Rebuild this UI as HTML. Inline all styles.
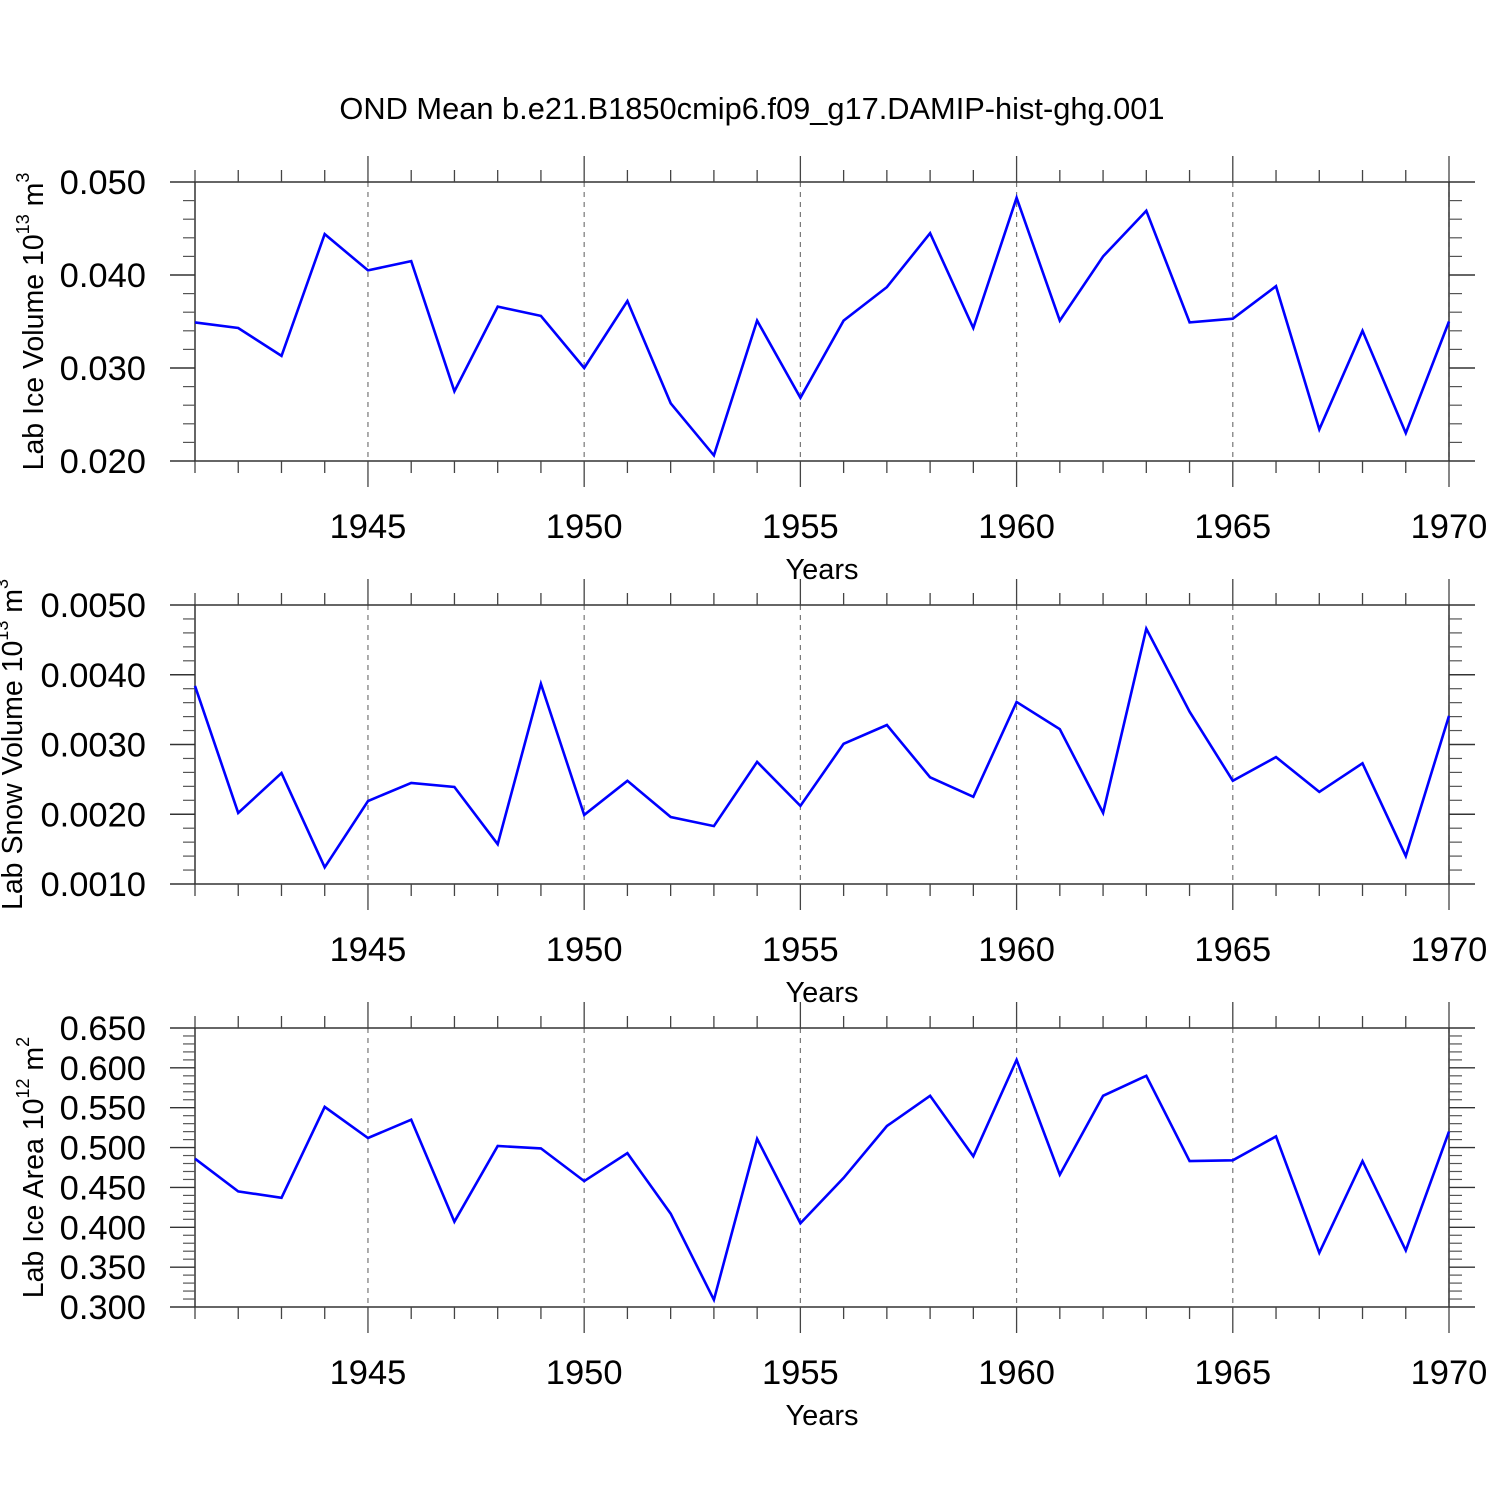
<!DOCTYPE html>
<html><head><meta charset="utf-8"><style>
html,body{margin:0;padding:0;background:#fff;}
svg text{font-family:"Liberation Sans",sans-serif;fill:#000;}
</style></head><body>
<svg id="chart" width="1500" height="1500" viewBox="0 0 1500 1500" xmlns="http://www.w3.org/2000/svg">
<rect width="1500" height="1500" fill="#fff"/>
<text x="752" y="119" font-size="30.8" text-anchor="middle">OND Mean b.e21.B1850cmip6.f09_g17.DAMIP-hist-ghg.001</text>
</svg>
<script>
const years = [1941,1942,1943,1944,1945,1946,1947,1948,1949,1950,1951,1952,1953,1954,1955,1956,1957,1958,1959,1960,1961,1962,1963,1964,1965,1966,1967,1968,1969,1970];
const iceVolume = [0.0349,0.0343,0.0313,0.0444,0.0405,0.0415,0.0275,0.0366,0.0356,0.0300,0.0372,0.0262,0.0206,0.0351,0.0268,0.0351,0.0387,0.0445,0.0343,0.0483,0.0351,0.0420,0.0469,0.0349,0.0353,0.0388,0.0234,0.0340,0.0230,0.0350];
const snowVolume = [0.00384,0.00202,0.00259,0.00124,0.00219,0.00245,0.00239,0.00157,0.00387,0.00199,0.00248,0.00196,0.00183,0.00275,0.00212,0.00301,0.00328,0.00253,0.00225,0.00361,0.00322,0.00202,0.00466,0.00347,0.00248,0.00282,0.00232,0.00273,0.00140,0.00341];
const iceArea = [0.486,0.445,0.437,0.551,0.512,0.535,0.407,0.502,0.499,0.458,0.493,0.417,0.309,0.511,0.405,0.462,0.527,0.565,0.489,0.610,0.466,0.565,0.590,0.483,0.484,0.514,0.368,0.483,0.371,0.520];
const xTickLabels = ["1945","1950","1955","1960","1965","1970"];
const iceVolTicks = ["0.020","0.030","0.040","0.050"];
const snowVolTicks = ["0.0010","0.0020","0.0030","0.0040","0.0050"];
const iceAreaTicks = ["0.300","0.350","0.400","0.450","0.500","0.550","0.600","0.650"];

const NS="http://www.w3.org/2000/svg";
const svg=document.getElementById('chart');
const X0=195,X1=1449;
function xs(v){return X0+(v-1941)/(1970-1941)*(X1-X0);}
function mk(tag,attrs,parent){const e=document.createElementNS(NS,tag);for(const k in attrs)e.setAttribute(k,attrs[k]);(parent||svg).appendChild(e);return e;}

const panels=[
 {name:'ice-volume',top:182,bot:461,vals:iceVolume,ticks:iceVolTicks,ymin:0.020,ymax:0.050,minorN:5,lab:['Lab Ice Volume 10','13',' m','3'],labX:43},
 {name:'snow-volume',top:605,bot:884,vals:snowVolume,ticks:snowVolTicks,ymin:0.0010,ymax:0.0050,minorN:5,lab:['Lab Snow Volume 10','13',' m','3'],labX:22},
 {name:'ice-area',top:1028,bot:1307,vals:iceArea,ticks:iceAreaTicks,ymin:0.300,ymax:0.650,minorN:5,lab:['Lab Ice Area 10','12',' m','2'],labX:43}
];
panels.forEach(p=>{
 const g=mk('g',{});
 
 
 const ys=v=>p.bot-(v-p.ymin)/(p.ymax-p.ymin)*(p.bot-p.top);
 xTickLabels.forEach(t=>{const x=xs(+t);const l=mk('line',{x1:x,x2:x,y1:p.top,y2:p.bot,stroke:'#777','stroke-width':1.2,'stroke-dasharray':'5,5'},g);
  
  });
 const fr=mk('rect',{x:X0,y:p.top,width:X1-X0,height:p.bot-p.top,fill:'none',stroke:'#333','stroke-width':1.5},g);
 
 
 years.forEach(yr=>{const x=xs(yr);const major=(yr%5===0);const len=major?26:12;
  mk('line',{x1:x,x2:x,y1:p.top-len,y2:p.top,stroke:'#444','stroke-width':1.3},g);
  mk('line',{x1:x,x2:x,y1:p.bot,y2:p.bot+len,stroke:'#444','stroke-width':1.3},g);});
 const n=p.ticks.length;const step=(p.ymax-p.ymin)/(n-1);
 for(let i=0;i<n-1;i++){for(let j=1;j<p.minorN;j++){const y=ys(p.ymin+step*i+step*j/p.minorN);
  mk('line',{x1:X0-12,x2:X0,y1:y,y2:y,stroke:'#555','stroke-width':1.2},g);
  mk('line',{x1:X1,x2:X1+13,y1:y,y2:y,stroke:'#555','stroke-width':1.2},g);}}
 p.ticks.forEach(t=>{const y=ys(+t);
  mk('line',{x1:X0-25,x2:X0,y1:y,y2:y,stroke:'#333','stroke-width':1.4},g);
  mk('line',{x1:X1,x2:X1+26,y1:y,y2:y,stroke:'#333','stroke-width':1.4},g);
  const tx=mk('text',{x:146,y:y+12,'font-size':34.5,'text-anchor':'end'},g);tx.textContent=t;
  
  });
 xTickLabels.forEach(t=>{const tx=mk('text',{x:xs(+t),y:p.bot+77,'font-size':34.5,'text-anchor':'middle'},g);tx.textContent=t;
  
  });
 const xt=mk('text',{x:822,y:p.bot+118,'font-size':29,'text-anchor':'middle'},g);xt.textContent='Years';
 
 
 const cy=(p.top+p.bot)/2;
 const yl=mk('text',{x:0,y:0,'font-size':28.5,'text-anchor':'middle',transform:`translate(${p.labX},${cy}) rotate(-90)`},g);
 
 
 const parts=p.lab;
 const t1=mk('tspan',{},yl);t1.textContent=parts[0];
 const t2=mk('tspan',{'font-size':18,dy:-14},yl);t2.textContent=parts[1];
 const t3=mk('tspan',{dy:14},yl);t3.textContent=parts[2];
 const t4=mk('tspan',{'font-size':18,dy:-14},yl);t4.textContent=parts[3];
 const pts=years.map((yr,i)=>xs(yr).toFixed(1)+','+ys(p.vals[i]).toFixed(1)).join(' ');
 const pl=mk('polyline',{points:pts,fill:'none',stroke:'#0000ff','stroke-width':2.6,'stroke-linejoin':'miter'},g);
 
 
});
</script>
</body></html>
